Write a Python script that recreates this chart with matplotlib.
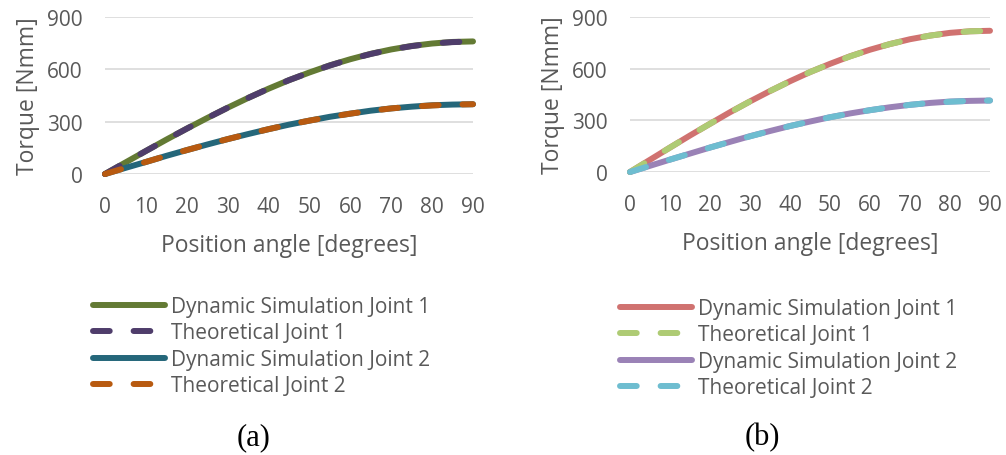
import matplotlib.pyplot as plt
import numpy as np

# position angle [degrees]
angle = [0, 5, 10, 15, 20, 25, 30, 35, 40, 45, 50, 55, 60, 65, 70, 75, 80, 85, 90]

# (a)
a_dyn_j1 = [0, 66, 132, 197, 260, 321, 380, 436, 489, 538, 582, 623, 658, 689, 714, 734, 748, 757, 760]
a_th_j1 = [0, 66, 132, 197, 260, 321, 380, 436, 489, 538, 582, 622, 658, 688, 714, 733, 748, 756, 760]
a_dyn_j2 = [0, 35, 69, 104, 137, 169, 200, 229, 257, 283, 306, 328, 346, 363, 376, 386, 394, 398, 400]
a_th_j2 = [0, 35, 69, 104, 137, 169, 200, 229, 257, 283, 306, 327, 346, 362, 376, 386, 393, 398, 400]

# (b)
b_dyn_j1 = [0, 71, 142, 212, 280, 347, 410, 470, 527, 580, 628, 672, 710, 743, 771, 792, 808, 817, 820]
b_th_j1 = [0, 71, 142, 212, 280, 346, 410, 470, 527, 580, 628, 671, 710, 743, 770, 792, 807, 817, 820]
b_dyn_j2 = [0, 36, 72, 107, 142, 175, 208, 238, 267, 293, 318, 340, 359, 376, 390, 401, 409, 413, 415]
b_th_j2 = [0, 36, 72, 107, 142, 175, 207, 238, 267, 293, 318, 339, 359, 376, 390, 401, 408, 413, 415]

labels = ["Dynamic Simulation Joint 1", "Theoretical Joint 1",
          "Dynamic Simulation Joint 2", "Theoretical Joint 2"]
colors_a = ["#637a34", "#4f3d6b", "#25677a", "#b85a10"]
colors_b = ["#d07270", "#aecb74", "#9a82b6", "#6ebdd0"]

plt.rcParams['font.family'] = ['Open Sans', 'DejaVu Sans']
txt = "#595959"

fig = plt.figure(figsize=(10.06, 4.56), dpi=100)
W, H = 1006, 456

def px_axes(l, r, t, b):
    return fig.add_axes([l / W, 1 - b / H, (r - l) / W, (b - t) / H])

ax_a = px_axes(105, 473, 18, 175)
ax_b = px_axes(630, 990, 18, 173)

lw = 4.3
dash = (2.8, 4.0)

def draw(ax, series, colors, leg_x, leg_y):
    handles = []
    for i, (y, c) in enumerate(zip(series, colors)):
        if i % 2 == 0:
            h, = ax.plot(angle, y, color=c, lw=lw, solid_capstyle='round', zorder=3)
        else:
            h, = ax.plot(angle, y, color=c, lw=lw, dashes=dash,
                         dash_capstyle='round', zorder=4)
        h.set_clip_on(False)
        handles.append(h)
    ax.set_xlim(0, 90)
    ax.set_ylim(0, 900)
    ax.set_xticks(range(0, 91, 10))
    ax.set_yticks([0, 300, 600, 900])
    ax.grid(axis='y', color='#d9d9d9', lw=1.2)
    ax.set_axisbelow(True)
    for s in ax.spines.values():
        s.set_visible(False)
    ax.tick_params(length=0, labelsize=15, colors=txt, pad=16)
    ax.set_ylabel("Torque [Nmm]", fontsize=16.5, color=txt, labelpad=5)
    ax.set_xlabel("Position angle [degrees]", fontsize=16.5, color=txt, labelpad=11)
    fig.legend(handles, labels, loc='upper left',
               bbox_to_anchor=(leg_x / W, 1 - leg_y / H),
               frameon=False, fontsize=15, handlelength=3.45,
               handletextpad=0.3, labelspacing=0.26, borderpad=0,
               borderaxespad=0, labelcolor=txt)

draw(ax_a, [a_dyn_j1, a_th_j1, a_dyn_j2, a_th_j2], colors_a, 93, 297)
draw(ax_b, [b_dyn_j1, b_th_j1, b_dyn_j2, b_th_j2], colors_b, 620, 299)

fig.text(254 / W, 1 - 438 / H, "(a)", ha='center', va='center',
         fontsize=22, family='Liberation Serif', color='black')
fig.text(762 / W, 1 - 438 / H, "(b)", ha='center', va='center',
         fontsize=22, family='Liberation Serif', color='black')

fig.savefig("out.png", dpi=100)
